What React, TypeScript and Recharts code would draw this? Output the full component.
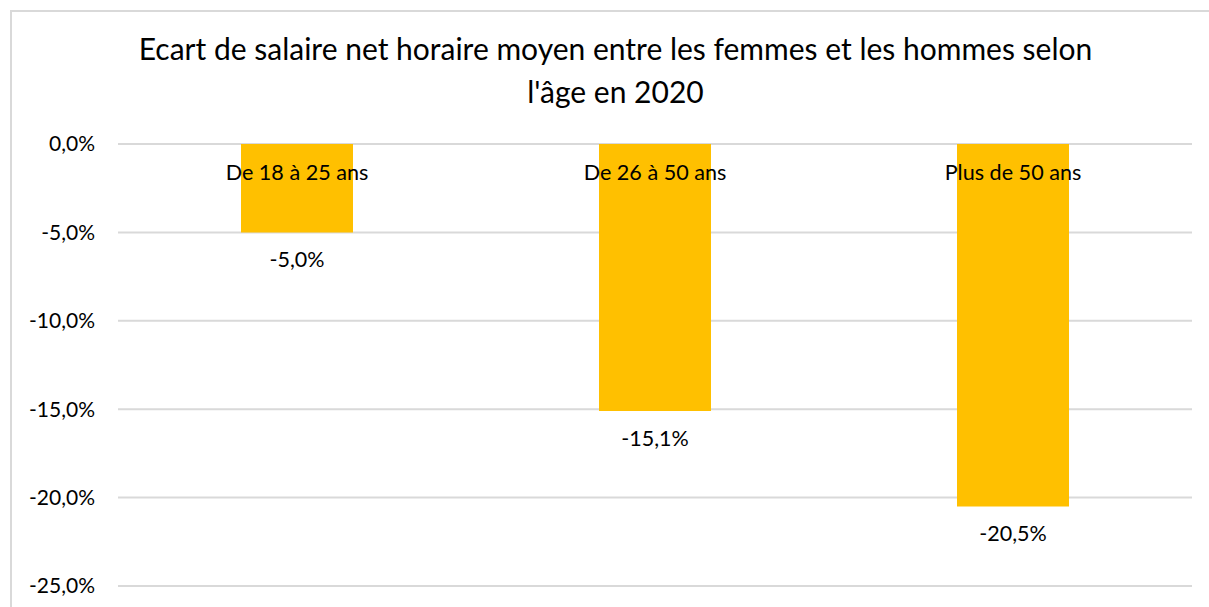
import { Bar, BarChart, CartesianGrid, LabelList, XAxis, YAxis } from 'recharts';

const categories = ['De 18 à 25 ans', 'De 26 à 50 ans', 'Plus de 50 ans'];
const ecart = [-5.0, -15.1, -20.5];
const yTicks = [0, -5, -10, -15, -20, -25];
const titleLines = [
  'Ecart de salaire net horaire moyen entre les femmes et les hommes selon',
  "l'âge en 2020",
];

const data = categories.map((name, i) => ({ name, value: ecart[i] }));

const FONT = 'Lato, "Open Sans", sans-serif';

const fmt = (v: number) => {
  const s = Math.abs(v).toFixed(1).replace('.', ',');
  return (v < 0 ? '-' : '') + s + '%';
};

// category name drawn just under the 0 line, like Excel does for negative bars
function CategoryLabel(props: any) {
  const { x, y, width, height, value } = props;
  const top = Math.min(y, y + height);
  return (
    <text
      x={x + width / 2}
      y={top + 36}
      textAnchor="middle"
      fontSize={21.6}
      fontFamily={FONT}
      fill="#000"
    >
      {value}
    </text>
  );
}

function ValueLabel(props: any) {
  const { x, y, width, height, value } = props;
  const bottom = Math.max(y, y + height);
  return (
    <text
      x={x + width / 2}
      y={bottom + 35}
      textAnchor="middle"
      fontSize={21.5}
      fontFamily={FONT}
      fill="#000"
    >
      {fmt(value)}
    </text>
  );
}

export default function App() {
  return (
    <div
      style={{
        position: 'fixed',
        left: 0,
        top: 0,
        width: 1209,
        height: 607,
        overflow: 'hidden',
        background: '#fff',
        fontFamily: FONT,
      }}
    >
      <div
        style={{
          position: 'absolute',
          left: 10,
          top: 10,
          width: 1400,
          height: 800,
          borderTop: '2px solid #d9d9d9',
          borderLeft: '2px solid #d9d9d9',
        }}
      />
      <div
        style={{
          position: 'absolute',
          left: 0,
          top: 27,
          width: 1231,
          textAlign: 'center',
          fontSize: 30,
          lineHeight: '43px',
          color: '#000',
        }}
      >
        {titleLines.map((l) => (
          <div key={l}>{l}</div>
        ))}
      </div>
      <div style={{ position: 'absolute', left: 0, top: 0 }}>
        <BarChart
          width={1209}
          height={607}
          data={data}
          margin={{ top: 144, right: 17, bottom: 21, left: 0 }}
        >
          <CartesianGrid vertical={false} stroke="#d9d9d9" strokeWidth={2} />
          <XAxis dataKey="name" hide />
          <YAxis
            width={118}
            domain={[-25, 0]}
            ticks={yTicks}
            tickFormatter={fmt}
            axisLine={false}
            tickLine={false}
            tickSize={0}
            tickMargin={23}
            tick={{ fontSize: 21, fontFamily: FONT, fill: '#000' }}
            interval={0}
          />
          <Bar dataKey="value" fill="#ffc000" barSize={112} isAnimationActive={false}>
            <LabelList dataKey="name" content={<CategoryLabel />} />
            <LabelList dataKey="value" content={<ValueLabel />} />
          </Bar>
        </BarChart>
      </div>
    </div>
  );
}
